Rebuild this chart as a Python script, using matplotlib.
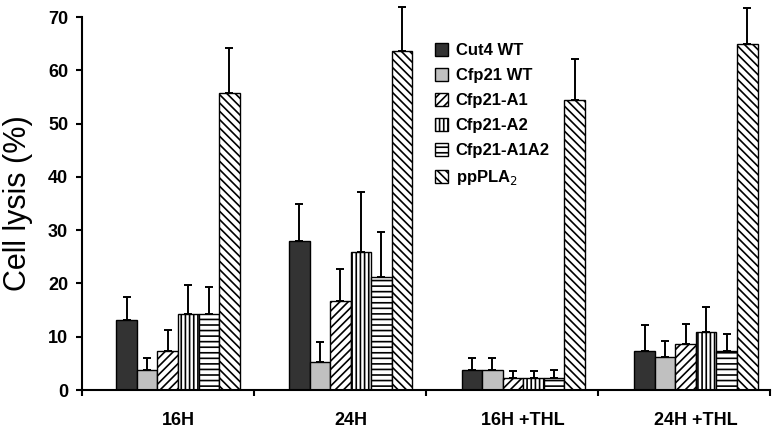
import matplotlib
matplotlib.use("Agg")
import matplotlib.pyplot as plt
import numpy as np

plt.rcParams['hatch.linewidth'] = 1.2
plt.rcParams['font.family'] = ['Liberation Sans', 'DejaVu Sans']

groups = ["16H", "24H", "16H +THL", "24H +THL"]
series = ["Cut4 WT", "Cfp21 WT", "Cfp21-A1", "Cfp21-A2", "Cfp21-A1A2", "ppPLA$_2$"]
means = [
    [13.2, 3.7, 7.3, 14.3, 14.3, 55.8],
    [28.0, 5.2, 16.7, 26.0, 21.3, 63.6],
    [3.7, 3.7, 2.3, 2.3, 2.3, 54.5],
    [7.3, 6.2, 8.6, 10.9, 7.3, 64.9],
]
errors = [
    [4.2, 2.4, 4.0, 5.4, 5.1, 8.4],
    [6.9, 3.8, 6.0, 11.2, 8.4, 8.4],
    [2.3, 2.3, 1.3, 1.3, 1.5, 7.6],
    [4.9, 3.0, 3.8, 4.7, 3.2, 6.8],
]

colors = ["#333333", "#c0c0c0", "white", "white", "white", "white"]
hatches = [None, None, "////", "||||", "---", "\\\\\\\\"]

fig = plt.figure(figsize=(7.74, 4.30), dpi=100)
ax = fig.add_axes([0.106, 0.093, 0.889, 0.867])

n = len(series)
w = 0.119
x = np.arange(len(groups))
means_a = np.array(means)
err_a = np.array(errors)
for j in range(n):
    pos = x + (j - (n - 1) / 2) * w
    ax.bar(pos, means_a[:, j], width=w, color=colors[j], edgecolor="black",
           linewidth=1.0, hatch=hatches[j], label=series[j], zorder=2)
    eb = ax.errorbar(pos, means_a[:, j], yerr=[np.zeros(len(groups)), err_a[:, j]],
                     fmt="none", ecolor="black", elinewidth=1.4, capsize=3,
                     capthick=1.4, zorder=3)
    for art in eb.lines[1] + eb.lines[2]:
        art.set_clip_on(False)

ax.set_xlim(-0.556, 3.43)
ax.set_ylim(0, 70)
ax.set_yticks(range(0, 71, 10))
ax.set_yticklabels([str(v) for v in range(0, 71, 10)], fontsize=13, fontweight="bold")
ax.set_xticks(x)
ax.set_xticklabels(groups, fontsize=13, fontweight="bold")
ax.tick_params(axis="x", which="major", length=0, pad=16)
ax.set_xticks([-0.556, 0.44, 1.436, 2.43, 3.43], minor=True)
ax.tick_params(axis="x", which="minor", length=4, width=1.5, direction="out")
ax.tick_params(axis="y", length=4, width=1.5, direction="out", pad=6)
for s in ["top", "right"]:
    ax.spines[s].set_visible(False)
for s in ["left", "bottom"]:
    ax.spines[s].set_linewidth(1.5)
ax.set_ylabel("Cell lysis (%)", fontsize=22)
ax.yaxis.set_label_coords(-0.071, 0.5)

leg = ax.legend(loc="upper left", bbox_to_anchor=(0.513, 0.93), frameon=False,
                prop={"weight": "bold", "size": 12}, handlelength=0.75,
                handleheight=0.75, handletextpad=0.5, labelspacing=0.6,
                borderpad=0, borderaxespad=0)

fig.savefig("out.png", dpi=100)
